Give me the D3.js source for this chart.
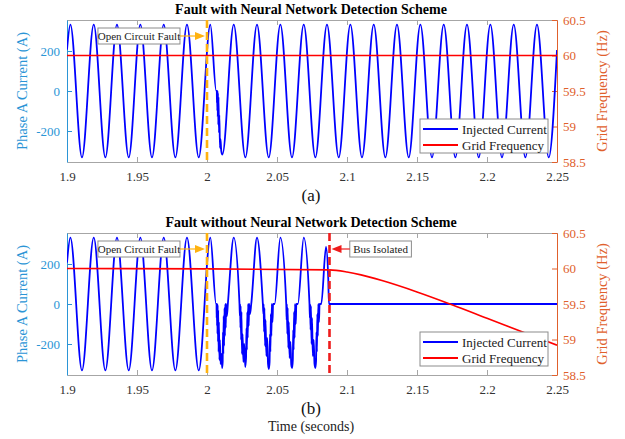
<!DOCTYPE html>
<html>
<head>
<meta charset="utf-8">
<script src="https://cdn.jsdelivr.net/npm/d3@7"></script>
<style>
  body { margin: 0; background: #fff; }
  text { font-family: "Liberation Serif", "Times New Roman", serif; }
</style>
</head>
<body>
<svg id="chart" width="625" height="439"></svg>
<script>
// tick labels
var timeTicks = [1.9, 1.95, 2, 2.05, 2.1, 2.15, 2.2, 2.25];
var currentTicks = [-200, 0, 200];
var freqTicks = [58.5, 59, 59.5, 60, 60.5];
var timeDomain = [1.9, 2.25];
var currentDomain = [-355, 355];
var freqDomain = [58.5, 60.5];

// event times (s)
var faultTime = 2.0;
var isolateTime = 2.0875;

// phase A current, panel (a): peaks / troughs, plus the fault chatter
var currentWith = [
  [1.9, 207], [1.9024, 332], [1.9107, -332], [1.9191, 332], [1.9274, -332], [1.9357, 332],
  [1.9441, -332], [1.9524, 332], [1.9607, -332], [1.9691, 332], [1.9774, -332], [1.9857, 332],
  [1.9941, -332], [2.0024, 332],
  [2.0066, 0], [2.0070, 0], [2.0071, -60], [2.0072, 0], [2.0074, -100], [2.0075, 0],
  [2.0077, -130], [2.0078, -10], [2.0081, -170], [2.0082, -30], [2.0086, -210], [2.0088, -120],
  [2.0093, -285], [2.0096, -240], [2.0102, -300], [2.0110, -318],
  [2.0191, 332], [2.0274, -332], [2.0357, 332], [2.0441, -332], [2.0524, 332], [2.0607, -332],
  [2.0691, 332], [2.0774, -332], [2.0857, 332], [2.0941, -332], [2.1024, 332], [2.1107, -332],
  [2.1191, 332], [2.1274, -332], [2.1357, 332], [2.1441, -332], [2.1524, 332], [2.1607, -332],
  [2.1691, 332], [2.1774, -332], [2.1857, 332], [2.1941, -332], [2.2024, 332], [2.2107, -332],
  [2.2191, 332], [2.2274, -332], [2.2357, 332], [2.2441, -332], [2.25, 205]
];

// phase A current, panel (b): chatter on every negative half cycle, then the bus is isolated
var currentWithout = [
  [1.9, 207], [1.9024, 332], [1.9107, -332], [1.9191, 332], [1.9274, -332], [1.9357, 332],
  [1.9441, -332], [1.9524, 332], [1.9607, -332], [1.9691, 332], [1.9774, -332], [1.9857, 332],
  [1.9941, -332], [2.0024, 332],
  [2.0065, 0], [2.0068, 0], [2.0069, -70], [2.0070, 0], [2.0072, -110], [2.0073, 0],
  [2.0075, -150], [2.0076, -5], [2.0079, -190], [2.0080, -30], [2.0083, -240], [2.0085, -90],
  [2.0089, -280], [2.0092, -180], [2.0097, -300], [2.0103, -250], [2.0108, -320], [2.0112, -290],
  [2.0114, -140], [2.0117, -250], [2.0119, -60], [2.0122, -210], [2.0125, -20], [2.0128, -160],
  [2.0131, 0], [2.0134, -120], [2.0136, 0], [2.0142, -60], [2.0149, 0],
  [2.0191, 332],
  [2.0232, 0], [2.0235, -60], [2.0236, 0], [2.0239, -120], [2.0240, -10], [2.0244, -180],
  [2.0246, -40], [2.0250, -250], [2.0254, -150], [2.0260, -290], [2.0266, -200], [2.0273, -315],
  [2.0279, -270], [2.0282, -120], [2.0285, -230], [2.0288, -40], [2.0291, -170], [2.0294, 0],
  [2.0298, -110], [2.0301, 0], [2.0307, -50], [2.0316, 0],
  [2.0357, 332],
  [2.0399, 0], [2.0403, -50], [2.0404, 0], [2.0408, -140], [2.0410, -20], [2.0415, -210],
  [2.0418, -80], [2.0424, -260], [2.0430, -170], [2.0436, -300], [2.0442, -325], [2.0447, -290],
  [2.0450, -150], [2.0453, -240], [2.0456, -50], [2.0460, -160], [2.0463, 0], [2.0468, -90],
  [2.0472, 0], [2.0483, 0],
  [2.0524, 332],
  [2.0566, 0], [2.0569, -80], [2.0570, 0], [2.0574, -150], [2.0576, -20], [2.0581, -220],
  [2.0584, -90], [2.0590, -270], [2.0596, -190], [2.0602, -305], [2.0608, -320], [2.0613, -280],
  [2.0616, -130], [2.0619, -230], [2.0622, -40], [2.0626, -170], [2.0629, 0], [2.0634, -100],
  [2.0638, 0], [2.0649, 0],
  [2.0691, 332],
  [2.0732, 0], [2.0735, -70], [2.0736, 0], [2.0740, -130], [2.0742, -10], [2.0747, -200],
  [2.0750, -70], [2.0756, -260], [2.0762, -180], [2.0768, -300], [2.0774, -320], [2.0779, -285],
  [2.0782, -140], [2.0785, -240], [2.0788, -50], [2.0792, -160], [2.0795, 0], [2.0800, -90],
  [2.0804, 0], [2.0816, 0],
  [2.0850, 285], [2.0866, 130], [2.0871, 0], [2.25, 0]
];

// grid frequency (Hz)
var freqWith = [[1.9, 60], [2.25, 60]];
var freqWithout = [
  [1.9, 60], [2.0, 59.995], [2.0875, 59.98], [2.1, 59.95], [2.11, 59.91], [2.125, 59.83],
  [2.15, 59.67], [2.175, 59.49], [2.2, 59.3], [2.225, 59.11], [2.25, 58.92]
];

var panels = [
  { id: 'a', title: 'Fault with Neural Network Detection Scheme', tag: '(a)',
    current: currentWith, freq: freqWith, isolated: false, top: 20, bottom: 162 },
  { id: 'b', title: 'Fault without Neural Network Detection Scheme', tag: '(b)',
    current: currentWithout, freq: freqWithout, isolated: true, top: 233, bottom: 375 }
];

var blue = '#0000ff', red = '#ff0000', orange = '#ffb20f', darkRed = '#ee1c1c';
var leftColor = '#2b95d6', rightColor = '#e0602c', boxColor = '#a6a6a6';
var serif = '"Liberation Serif", "Times New Roman", serif';

var svg = d3.select('#chart');
var x = d3.scaleLinear().domain(timeDomain).range([67, 557]);

function styleTicks(axisG, color) {
  axisG.attr('font-family', serif);
  axisG.selectAll('text')
    .attr('font-size', 13).attr('fill', color)
    .style('font-family', serif);
}

panels.forEach(function (p) {
  var yc = d3.scaleLinear().domain(currentDomain).range([p.bottom, p.top]);
  var yf = d3.scaleLinear().domain(freqDomain).range([p.bottom, p.top]);
  var g = svg.append('g');

  g.append('clipPath').attr('id', 'clip-' + p.id).append('rect')
    .attr('x', x.range()[0]).attr('y', p.top)
    .attr('width', x.range()[1] - x.range()[0]).attr('height', p.bottom - p.top);

  // title
  g.append('text')
    .attr('x', 311).attr('y', p.top - 6)
    .attr('text-anchor', 'middle').attr('font-size', 14).attr('font-weight', 'bold')
    .attr('fill', '#000')
    .text(p.title);

  // top / bottom box edges with inward ticks
  var bottomAxis = g.append('g')
    .attr('transform', 'translate(0,' + p.bottom + ')')
    .call(d3.axisBottom(x).tickValues(timeTicks).tickSizeInner(-5).tickSizeOuter(0)
      .tickPadding(10).tickFormat(function (d) { return String(d); }));
  var topAxis = g.append('g')
    .attr('transform', 'translate(0,' + p.top + ')')
    .call(d3.axisTop(x).tickValues(timeTicks).tickSizeInner(-5).tickSizeOuter(0).tickFormat(''));
  [bottomAxis, topAxis].forEach(function (a) {
    a.select('.domain').attr('stroke', boxColor);
    a.selectAll('.tick line').attr('stroke', boxColor);
    styleTicks(a, '#333');
  });

  // left axis: current
  var leftAxis = g.append('g')
    .attr('transform', 'translate(' + x.range()[0] + ',0)')
    .call(d3.axisLeft(yc).tickValues(currentTicks).tickSizeInner(-5).tickSizeOuter(0)
      .tickPadding(7).tickFormat(function (d) { return String(d); }));
  leftAxis.select('.domain').attr('stroke', leftColor);
  leftAxis.selectAll('.tick line').attr('stroke', leftColor);
  styleTicks(leftAxis, leftColor);

  // right axis: frequency
  var rightAxis = g.append('g')
    .attr('transform', 'translate(' + x.range()[1] + ',0)')
    .call(d3.axisRight(yf).tickValues(freqTicks).tickSizeInner(-5).tickSizeOuter(0)
      .tickPadding(6).tickFormat(function (d) { return String(d); }));
  rightAxis.select('.domain').attr('stroke', rightColor);
  rightAxis.selectAll('.tick line').attr('stroke', rightColor);
  styleTicks(rightAxis, rightColor);

  // axis titles
  var midY = (p.top + p.bottom) / 2;
  g.append('text')
    .attr('transform', 'translate(27,' + midY + ') rotate(-90)')
    .attr('text-anchor', 'middle').attr('font-size', 14.5).attr('fill', leftColor)
    .text('Phase A Current (A)');
  g.append('text')
    .attr('transform', 'translate(607,' + midY + ') rotate(-90)')
    .attr('text-anchor', 'middle').attr('font-size', 14.5).attr('fill', rightColor)
    .text('Grid Frequency (Hz)');

  // curves
  var plot = g.append('g').attr('clip-path', 'url(#clip-' + p.id + ')');
  var currentLine = d3.line()
    .x(function (d) { return x(d[0]); })
    .y(function (d) { return yc(d[1]); })
    .curve(d3.curveMonotoneX);
  var freqLine = d3.line()
    .x(function (d) { return x(d[0]); })
    .y(function (d) { return yf(d[1]); })
    .curve(d3.curveMonotoneX);

  plot.append('path').datum(p.current)
    .attr('d', currentLine).attr('fill', 'none')
    .attr('stroke', blue).attr('stroke-width', 1.8).attr('stroke-linejoin', 'round');
  plot.append('path').datum(p.freq)
    .attr('d', freqLine).attr('fill', 'none')
    .attr('stroke', red).attr('stroke-width', 1.6);

  // event markers
  plot.append('line')
    .attr('x1', x(faultTime)).attr('x2', x(faultTime))
    .attr('y1', p.top).attr('y2', p.bottom)
    .attr('stroke', orange).attr('stroke-width', 2.6).attr('stroke-dasharray', '8,4');
  if (p.isolated) {
    plot.append('line')
      .attr('x1', x(isolateTime)).attr('x2', x(isolateTime))
      .attr('y1', p.top).attr('y2', p.bottom)
      .attr('stroke', darkRed).attr('stroke-width', 2.6).attr('stroke-dasharray', '8,4');
  }

  // annotations
  var ay = p.top + 16;
  function note(label, x0, x1, arrowTo, color) {
    g.append('rect')
      .attr('x', x0).attr('y', ay - 8).attr('width', x1 - x0).attr('height', 16)
      .attr('fill', '#fff').attr('stroke', '#8c8c8c').attr('stroke-width', 1);
    g.append('text')
      .attr('x', (x0 + x1) / 2).attr('y', ay + 3.5)
      .attr('text-anchor', 'middle').attr('font-size', 11).attr('fill', '#222')
      .text(label);
    var from = arrowTo > x1 ? x1 : x0;
    var dir = arrowTo > from ? 1 : -1;
    g.append('line')
      .attr('x1', from).attr('x2', arrowTo - dir * 8)
      .attr('y1', ay).attr('y2', ay)
      .attr('stroke', color).attr('stroke-width', 1.2);
    g.append('path')
      .attr('d', 'M' + arrowTo + ',' + ay + 'L' + (arrowTo - dir * 10) + ',' + (ay - 4) +
        'L' + (arrowTo - dir * 10) + ',' + (ay + 4) + 'Z')
      .attr('fill', color);
  }
  note('Open Circuit Fault', x(1.9221), x(1.9807), x(faultTime) - 2, orange);
  if (p.isolated) {
    note('Bus Isolated', x(2.102), x(2.146), x(isolateTime) + 2, darkRed);
  }

  // legend
  var lx = 420, ly = p.bottom - 43;
  g.append('rect')
    .attr('x', lx).attr('y', ly).attr('width', 128).attr('height', 34)
    .attr('fill', '#fff').attr('stroke', '#8c8c8c').attr('stroke-width', 1);
  [{ name: 'Injected Current', color: blue }, { name: 'Grid Frequency', color: red }]
    .forEach(function (e, i) {
      var yy = ly + 10 + i * 16;
      g.append('line')
        .attr('x1', lx + 3).attr('x2', lx + 38).attr('y1', yy).attr('y2', yy)
        .attr('stroke', e.color).attr('stroke-width', 1.8);
      g.append('text')
        .attr('x', lx + 42).attr('y', yy + 4.5)
        .attr('font-size', 13).attr('fill', '#222')
        .text(e.name);
    });

  // panel tag
  g.append('text')
    .attr('x', 311).attr('y', p.bottom + 39)
    .attr('text-anchor', 'middle').attr('font-size', 17).attr('fill', '#111')
    .text(p.tag);
});

svg.append('text')
  .attr('x', 311).attr('y', 431)
  .attr('text-anchor', 'middle').attr('font-size', 14).attr('fill', '#222')
  .text('Time (seconds)');
</script>
</body>
</html>
